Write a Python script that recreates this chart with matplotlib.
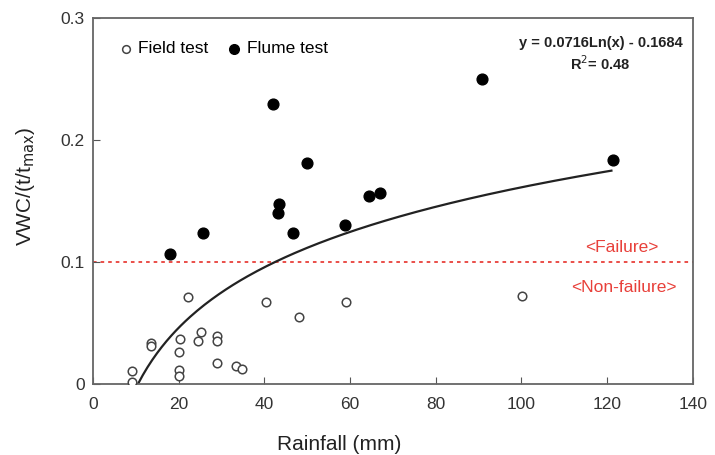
import numpy as np
import matplotlib.pyplot as plt

plt.rcParams['font.family'] = ['Liberation Sans', 'DejaVu Sans']

# field test (open circles)
field_x = [9.0, 9.0, 13.5, 13.5, 22.2, 20.3, 20.1, 20.1, 20.1, 25.2, 24.6,
           28.9, 28.9, 28.9, 33.5, 34.7, 40.4, 48.1, 59.1, 100.2]
field_y = [0.011, 0.002, 0.034, 0.031, 0.071, 0.037, 0.026, 0.0115, 0.0066,
           0.043, 0.035, 0.039, 0.0355, 0.0175, 0.015, 0.0123, 0.0675, 0.055,
           0.0675, 0.0724]

# flume test (filled circles)
flume_x = [18.0, 25.7, 43.2, 43.4, 46.7, 58.8, 42.0, 49.9, 64.4, 67.0, 90.8, 121.3]
flume_y = [0.107, 0.124, 0.140, 0.148, 0.124, 0.130, 0.230, 0.181, 0.154,
           0.157, 0.250, 0.184]

fit_a, fit_b = 0.0716, -0.1684
threshold = 0.1

fig = plt.figure(figsize=(7.15, 4.55), dpi=100)
ax = fig.add_axes([0.130, 0.156, 0.839, 0.804])

xs = np.linspace(np.exp(-fit_b / fit_a), 121, 200)
ax.plot(xs, fit_a * np.log(xs) + fit_b, color='#222222', lw=1.6, zorder=2)

ax.axhline(threshold, color='#e8403a', lw=1.3, ls=(0, (2, 2.2)), zorder=1)

ax.scatter(field_x, field_y, s=38, facecolors='white', edgecolors='#444444',
           linewidths=1.1, label='Field test', zorder=3)
ax.scatter(flume_x, flume_y, s=60, color='black', label='Flume test', zorder=3)

ax.text(123.5, 0.112, '<Failure>', color='#e8403a', fontsize=12.5, ha='center', va='center')
ax.text(124, 0.0795, '<Non-failure>', color='#e8403a', fontsize=12.5, ha='center', va='center')

ax.text(137.7, 0.280, 'y = 0.0716Ln(x) - 0.1684', fontsize=10.5, fontweight='bold',
        ha='right', va='center', color='#222222')
ax.text(118.3, 0.263, 'R$^2$= 0.48', fontsize=10.5, fontweight='bold',
        ha='center', va='center', color='#222222')

ax.set_xlim(0, 140)
ax.set_ylim(0, 0.3)
ax.set_xticks(range(0, 141, 20))
ax.set_yticks([0, 0.1, 0.2, 0.3])
ax.set_yticklabels(['0', '0.1', '0.2', '0.3'])
ax.tick_params(direction='in', labelsize=12.5, colors='#555555', labelcolor='#333333',
               length=5, pad=6)
ax.tick_params(axis='x', pad=9)
for s in ax.spines.values():
    s.set_color('#666666')
    s.set_linewidth(1.3)

ax.set_xlabel('Rainfall (mm)', fontsize=15, color='#222222')
ax.xaxis.set_label_coords(0.41, -0.14)
ax.set_ylabel('VWC/(t/t$_{\\mathrm{max}}$)', fontsize=15, color='#222222')
ax.yaxis.set_label_coords(-0.093, 0.54)

ax.legend(loc='upper left', ncol=2, frameon=False, fontsize=12.5, handletextpad=-0.3,
          columnspacing=0.5, bbox_to_anchor=(0.0, 0.98), markerscale=0.9)

fig.savefig('out.png', dpi=100)
